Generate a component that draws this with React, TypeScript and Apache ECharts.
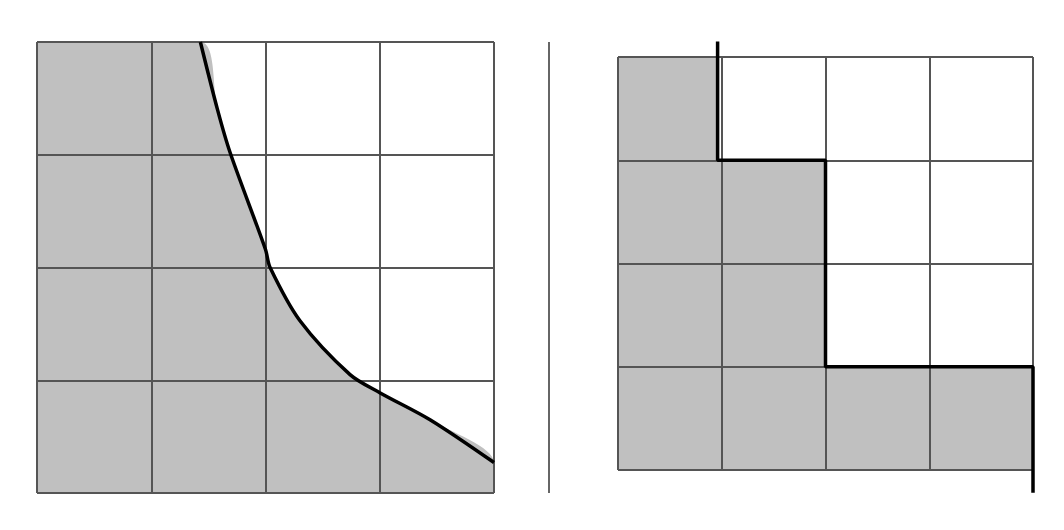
import { useEffect, useRef } from 'react';
import * as echarts from 'echarts';

// left: smooth boundary curve (x, y) in cell units
const curveX = [1.43, 1.58, 1.69, 2.0, 2.04, 2.3, 2.74, 3.0, 3.44, 4.0];
const curveY = [4.0, 3.4, 3.02, 2.16, 2.0, 1.53, 1.05, 0.89, 0.65, 0.27];

// right: staircase boundary
const stepX = [0.96, 0.96, 0.96, 2, 2, 4, 4];
const stepY = [4.15, 4, 3, 3, 1, 1, -0.22];

const pair = (xs: number[], ys: number[]) => xs.map((x, i) => [x, ys[i]]);

export default function App() {
    const ref = useRef<HTMLDivElement>(null);

    useEffect(() => {
        if (!ref.current) return;
        const chart = echarts.init(ref.current, null, { renderer: 'svg' });

        const axis = (idx: number) => ({
            type: 'value' as const,
            gridIndex: idx,
            min: 0,
            max: 4,
            interval: 1,
            z: 3,
            axisLine: { show: false },
            axisTick: { show: false },
            axisLabel: { show: false },
            splitLine: { lineStyle: { color: '#555', width: 2 } },
        });

        const curve = pair(curveX, curveY);
        const steps = pair(stepX, stepY);

        chart.setOption({
            animation: false,
            grid: [
                { left: 37, top: 42, width: 457, height: 451 },
                { left: 618, top: 57, width: 415, height: 413 },
            ],
            xAxis: [axis(0), axis(1)],
            yAxis: [axis(0), axis(1)],
            graphic: [
                { type: 'line', shape: { x1: 549, y1: 42, x2: 549, y2: 493 }, style: { stroke: '#333', lineWidth: 1.5 } },
            ],
            series: [
                {
                    type: 'line', xAxisIndex: 0, yAxisIndex: 0, smooth: 0.3, symbol: 'none', z: 1,
                    data: [[0, 4], ...curve, [4, 0]],
                    lineStyle: { width: 0 },
                    areaStyle: { color: '#c0c0c0', opacity: 1 },
                },
                {
                    type: 'line', xAxisIndex: 0, yAxisIndex: 0, smooth: 0.3, symbol: 'none', z: 4,
                    data: curve,
                    lineStyle: { color: '#000', width: 3.5 },
                },
                {
                    type: 'line', xAxisIndex: 1, yAxisIndex: 1, symbol: 'none', z: 1,
                    data: [[0, 4], ...steps.slice(1, 6)],
                    lineStyle: { width: 0 },
                    areaStyle: { color: '#c0c0c0', opacity: 1 },
                },
                {
                    type: 'line', xAxisIndex: 1, yAxisIndex: 1, symbol: 'none', z: 4, clip: false,
                    data: steps,
                    lineStyle: { color: '#000', width: 3.5 },
                },
            ],
        });

        return () => chart.dispose();
    }, []);

    return (
        <div
            ref={ref}
            style={{ position: 'absolute', left: 0, top: 0, width: 1064, height: 530, background: '#fff' }}
        />
    );
}
